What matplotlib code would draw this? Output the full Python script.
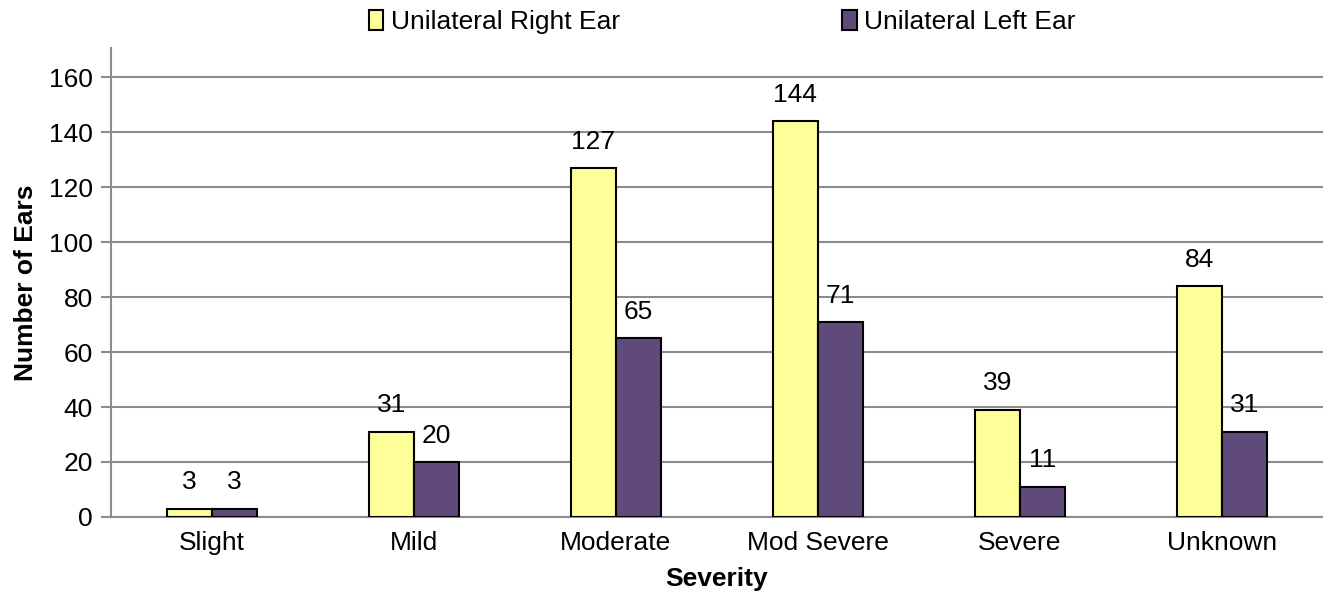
import numpy as np
import matplotlib.pyplot as plt
from matplotlib.patches import Patch

plt.rcParams['font.family'] = ['Liberation Sans', 'DejaVu Sans']

# === Данные ===
categories = ["Slight", "Mild", "Moderate", "Mod Severe", "Severe", "Unknown"]
right_ear = [3, 31, 127, 144, 39, 84]
left_ear = [3, 20, 65, 71, 11, 31]

yellow = "#FFFF99"
purple = "#604A7B"
grid_col = "#8C8C8C"
fs = 19

fig = plt.figure(figsize=(13.23, 5.96), dpi=100)
ax = fig.add_axes([0.0839, 0.1326, 0.9161, 0.7864])

x = np.arange(len(categories))
w = 0.225

b1 = ax.bar(x - w/2, right_ear, w, color=yellow, edgecolor="black", linewidth=1.5, zorder=3)
b2 = ax.bar(x + w/2, left_ear, w, color=purple, edgecolor="black", linewidth=1.5, zorder=3)

for rect, v in zip(b1, right_ear):
    ax.text(rect.get_x() + rect.get_width()/2, v + 5.2, str(v), ha="center", va="bottom", fontsize=fs)
for rect, v in zip(b2, left_ear):
    ax.text(rect.get_x() + rect.get_width()/2, v + 5.2, str(v), ha="center", va="bottom", fontsize=fs)

ax.set_xlim(-0.5, len(categories) - 0.5)
ax.set_ylim(0, 170.5)
ax.set_yticks(np.arange(0, 161, 20))
ax.set_xticks(x)
ax.set_xticklabels(categories)
ax.tick_params(axis="y", labelsize=fs, length=7, color=grid_col, width=1.5, direction="out", pad=6)
ax.tick_params(axis="x", labelsize=fs, length=0, pad=10)

ax.yaxis.grid(True, color=grid_col, linewidth=1.5, zorder=0)
ax.set_axisbelow(True)
for s in ["top", "right"]:
    ax.spines[s].set_visible(False)
for s in ["left", "bottom"]:
    ax.spines[s].set_color(grid_col)
    ax.spines[s].set_linewidth(1.5)

ax.set_xlabel("Severity", fontsize=fs, fontweight="bold", labelpad=9)
ax.set_ylabel("Number of Ears", fontsize=fs, fontweight="bold", labelpad=8)

handles = [Patch(facecolor=yellow, edgecolor="black", linewidth=1.5),
           Patch(facecolor=purple, edgecolor="black", linewidth=1.5)]
fig.legend(handles, ["Unilateral Right Ear", "Unilateral Left Ear"],
           loc="center", bbox_to_anchor=(0.546, 0.963), ncol=2, frameon=False,
           fontsize=fs, handlelength=0.55, handleheight=0.75, handletextpad=0.3,
           columnspacing=8.4)

fig.savefig("out.png", dpi=100)
